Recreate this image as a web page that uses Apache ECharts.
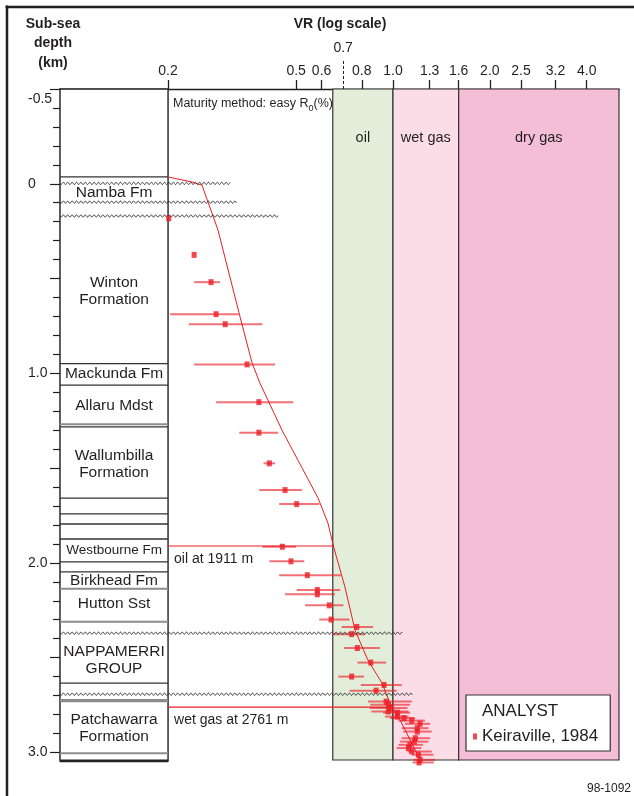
<!DOCTYPE html>
<html><head><meta charset="utf-8">
<script src="https://cdn.jsdelivr.net/npm/echarts@6/dist/echarts.min.js"></script>
<style>html,body{margin:0;padding:0;background:#fff}#c{width:634px;height:796px}</style>
</head><body><div id="c"></div>
<script>
// ---------- axis ticks ----------
const vrTicks = [0.2, 0.5, 0.6, 0.8, 1.0, 1.3, 1.6, 2.0, 2.5, 3.2, 4.0];
const vrExtraTicks = [0.7];
const depthLabels = [-0.5, 0, 1.0, 2.0, 3.0];
const depthMajorTicks = [-0.5, 0, 0.5, 1.0, 1.5, 2.0, 2.5, 3.0];
const depthMinorTicks = [-0.4, -0.3, -0.2, -0.1, 0.1, 0.2, 0.3, 0.4, 0.6, 0.7, 0.8, 0.9,
  1.1, 1.2, 1.3, 1.4, 1.6, 1.7, 1.8, 1.9, 2.1, 2.2, 2.3, 2.4, 2.6, 2.7, 2.8, 2.9];

// ---------- maturity zones ----------
const zoneNames = ['oil', 'wet gas', 'dry gas'];
const zoneFrom = [0.65, 1.0, 1.6];
const zoneTo = [1.0, 1.6, 5.04];

// ---------- model curve (easy Ro) ----------
const modelVR =    [0.200, 0.239, 0.255, 0.286, 0.335, 0.365, 0.386, 0.406, 0.452, 0.585, 0.628, 0.653, 0.709, 0.762, 0.835, 0.924, 0.978, 1.052, 1.214];
const modelDepth = [-0.036, -0.008, 0.008, 0.245, 0.704, 0.946, 1.052, 1.131, 1.300, 1.658, 1.790, 1.911, 2.127, 2.354, 2.512, 2.633, 2.738, 2.828, 3.039];

// ---------- measured VR (Keiraville, 1984) ----------
const sampleDepth = [0.182, 0.375, 0.519, 0.688, 0.741, 0.953, 1.152, 1.313, 1.475, 1.616, 1.690, 1.915, 1.992, 2.065,
  2.143, 2.166, 2.224, 2.299, 2.338, 2.376, 2.449, 2.526, 2.600, 2.644, 2.674, 2.732, 2.749, 2.766, 2.784, 2.790,
  2.811, 2.819, 2.832, 2.849, 2.872, 2.890, 2.925, 2.943, 2.960, 2.977, 2.995, 3.012, 3.039, 3.053];
const sampleVR = [0.201, 0.241, 0.272, 0.282, 0.301, 0.352, 0.383, 0.383, 0.413, 0.462, 0.502, 0.453, 0.482, 0.542,
  0.582, 0.582, 0.634, 0.642, 0.772, 0.744, 0.775, 0.853, 0.744, 0.938, 0.886, 0.952, 0.967, 0.978, 0.967, 1.034,
  1.030, 1.082, 1.144, 1.214, 1.190, 1.190, 1.174, 1.165, 1.128, 1.117, 1.144, 1.200, 1.214, 1.205];
const sampleLow = [0.201, 0.241, 0.241, 0.203, 0.232, 0.241, 0.282, 0.333, 0.396, 0.384, 0.443, 0.393, 0.413, 0.443,
  0.502, 0.462, 0.533, 0.590, 0.693, 0.646, 0.704, 0.776, 0.676, 0.794, 0.733, 0.836, 0.850, 0.846, 0.857, 0.932,
  0.944, 0.978, 1.040, 1.090, 1.064, 1.076, 1.064, 1.052, 1.040, 1.027, 1.109, 1.144, 1.157, 1.150];
const sampleHigh = [0.201, 0.241, 0.290, 0.331, 0.393, 0.430, 0.490, 0.440, 0.430, 0.521, 0.590, 0.500, 0.530, 0.690,
  0.685, 0.660, 0.701, 0.733, 0.868, 0.818, 0.910, 0.952, 0.813, 1.064, 1.027, 1.144, 1.130, 1.110, 1.117, 1.130,
  1.117, 1.170, 1.257, 1.305, 1.290, 1.320, 1.305, 1.289, 1.239, 1.224, 1.320, 1.336, 1.353, 1.340];

// ---------- stratigraphic column ----------
const formationNames = ['Namba Fm', 'Winton\nFormation', 'Mackunda Fm', 'Allaru Mdst', 'Wallumbilla\nFormation',
  'Westbourne Fm', 'Birkhead Fm', 'Hutton Sst', 'NAPPAMERRI\nGROUP', 'Patchawarra\nFormation'];
const formationMidDepth = [0.049, 0.566, 1.003, 1.171, 1.478, 1.932, 2.094, 2.217, 2.511, 2.871];
const boundaryDepth = [-0.036, 0.949, 1.062, 1.269, 1.283, 1.658, 1.742, 1.795, 1.874, 1.995, 2.048, 2.137, 2.310, 2.634, 2.727, 3.005, 3.045];
const boundaryKind =  [0, 0, 0, 1, 0, 0, 0, 0, 0, 0, 0, 1, 1, 0, 2, 1, 3];
const unconformityDepth = [-0.002, 0.097, 0.170, 2.371, 2.693];
const unconformityEndVR = [0.312, 0.327, 0.440, 1.074, 1.150];

// ---------- hydrocarbon shows ----------
const showDepth = [1.911, 2.761];
const showEndVR = [0.653, 0.960];
const showLabels = ['oil at 1911 m', 'wet gas at 2761 m'];

// ---------- styles ----------
const FONT = '"Liberation Sans", Arial, Helvetica, sans-serif';
const RED = '#ec1c24';
const INK = '#231f20';
const zoneColors = ['#e2eed9', '#fbdde8', '#f5bed7'];
const boundaryStyles = [
  {stroke: '#333', w: 1.3}, {stroke: '#8c8c8c', w: 2}, {stroke: '#8c8c8c', w: 3.2}, {stroke: '#222', w: 2.8}
];
const colLeft = 0.0923, colRight = 0.2, colMid = Math.sqrt(colLeft * colRight);
const yMin = -0.5, yMax = 3.04, xMin = colLeft, xMax = 5.04, colBottom = 3.045;

const chart = echarts.init(document.getElementById('c'), null, {renderer: 'canvas'});

const option = {
  animation: false,
  backgroundColor: '#fff',
  textStyle: {fontFamily: FONT},
  grid: {left: 60, right: 15, top: 89, bottom: 36, containLabel: false},
  xAxis: [
    {
      type: 'log', logBase: 10, min: xMin, max: xMax, position: 'top',
      axisLine: {show: true, onZero: false, lineStyle: {color: INK, width: 1.3}},
      axisTick: {show: true, customValues: vrTicks, length: 9, lineStyle: {color: INK, width: 1.3}},
      axisLabel: {customValues: vrTicks, formatter: v => Number(v).toFixed(1), fontSize: 14, color: INK, margin: 11, fontFamily: FONT},
      splitLine: {show: false}, minorTick: {show: false}, minorSplitLine: {show: false}
    },
    {
      type: 'log', logBase: 10, min: xMin, max: xMax, position: 'top',
      axisLine: {show: false, onZero: false},
      axisTick: {show: true, customValues: vrExtraTicks, length: 29, lineStyle: {color: INK, width: 1, type: [3, 2]}},
      axisLabel: {customValues: vrExtraTicks, formatter: v => Number(v).toFixed(1), fontSize: 14, color: INK, margin: 34, fontFamily: FONT},
      splitLine: {show: false}
    }
  ],
  yAxis: [
    {
      type: 'value', inverse: true, min: yMin, max: yMax, position: 'left',
      axisLine: {show: true, onZero: false, lineStyle: {color: INK, width: 1.3}},
      axisTick: {show: true, customValues: depthMajorTicks, length: 10, lineStyle: {color: INK, width: 1.2}},
      axisLabel: {
        customValues: depthLabels, align: 'left', margin: 32, fontSize: 14, color: INK, fontFamily: FONT,
        formatter: v => (Math.abs(v + 0.5) < 1e-9 ? '{t|-0.5}' : (Math.abs(v) < 1e-9 ? '0' : Number(v).toFixed(1))),
        rich: {t: {padding: [20, 0, 0, 0], fontSize: 14, color: INK, fontFamily: FONT}}
      },
      splitLine: {show: false}
    },
    {
      type: 'value', inverse: true, min: yMin, max: yMax, position: 'left',
      axisLine: {show: false, onZero: false},
      axisTick: {show: true, customValues: depthMinorTicks, length: 7, lineStyle: {color: INK, width: 1.2}},
      axisLabel: {show: false},
      splitLine: {show: false}
    }
  ],
  legend: {
    data: [{name: 'Keiraville, 1984', icon: 'rect'}],
    left: 466, top: 695, orient: 'vertical',
    itemWidth: 4, itemHeight: 6, itemGap: 0,
    padding: [33, 12, 6, 7],
    backgroundColor: '#fff', borderColor: '#333', borderWidth: 1.2, borderRadius: 0,
    selectedMode: false,
    textStyle: {fontSize: 17, color: INK, fontFamily: FONT}
  },
  graphic: [
    {type: 'line', z: 100, shape: {x1: 5.5, y1: 7, x2: 634, y2: 7}, style: {stroke: INK, lineWidth: 2.5}},
    {type: 'line', z: 100, shape: {x1: 7, y1: 5.5, x2: 7, y2: 796}, style: {stroke: INK, lineWidth: 2.5}},
    {type: 'text', z: 100, x: 53, y: 24, style: {text: 'Sub-sea', font: 'bold 14px ' + FONT, fill: INK, align: 'center', verticalAlign: 'middle'}},
    {type: 'text', z: 100, x: 53, y: 43, style: {text: 'depth', font: 'bold 14px ' + FONT, fill: INK, align: 'center', verticalAlign: 'middle'}},
    {type: 'text', z: 100, x: 53, y: 63, style: {text: '(km)', font: 'bold 14px ' + FONT, fill: INK, align: 'center', verticalAlign: 'middle'}},
    {type: 'text', z: 100, x: 340, y: 24, style: {text: 'VR (log scale)', font: 'bold 14px ' + FONT, fill: INK, align: 'center', verticalAlign: 'middle'}},
    {type: 'text', z: 100, x: 173, y: 102, style: {
      text: '{a|Maturity method: easy R}{s|0}{a|(%)}', align: 'left', verticalAlign: 'middle',
      rich: {a: {fontSize: 12.5, fontFamily: FONT, fill: INK, lineHeight: 16, verticalAlign: 'bottom'},
             s: {fontSize: 9, fontFamily: FONT, fill: INK, lineHeight: 16, verticalAlign: 'bottom', padding: [0, 0, -3, 0]}}
    }},
    {type: 'text', z: 100, x: 482, y: 711, style: {text: 'ANALYST', font: '17px ' + FONT, fill: INK, align: 'left', verticalAlign: 'middle'}},
    {type: 'text', z: 100, x: 631, y: 789, style: {text: '98-1092', font: '12px ' + FONT, fill: INK, align: 'right', verticalAlign: 'middle'}}
  ],
  series: [
    // maturity zones
    {
      type: 'custom', name: 'zones', z: 1, clip: false, silent: true,
      encode: {x: 0, y: 1},
      data: zoneFrom.map((f, i) => [f, zoneTo[i], i]),
      renderItem: (p, api) => {
        const i = api.value(2);
        const a = api.coord([api.value(0), yMin]);
        const b = api.coord([api.value(1), yMax]);
        return {type: 'group', children: [
          {type: 'rect', shape: {x: a[0], y: a[1], width: b[0] - a[0], height: b[1] - a[1]},
           style: {fill: zoneColors[i], stroke: '#333', lineWidth: 1.2}},
          {type: 'text', style: {text: zoneNames[i], x: (a[0] + b[0]) / 2, y: a[1] + 49, align: 'center',
           verticalAlign: 'middle', font: '14.5px ' + FONT, fill: INK}}
        ]};
      }
    },
    // column frame
    {
      type: 'custom', name: 'column', z: 2, clip: false, silent: true,
      encode: {x: 0, y: 1},
      data: [[colRight, colBottom]],
      renderItem: (p, api) => {
        const a = api.coord([colLeft, yMin]);
        const b = api.coord([colRight, colBottom]);
        return {type: 'rect', shape: {x: a[0], y: a[1], width: b[0] - a[0], height: b[1] - a[1]},
                style: {fill: '#fff', stroke: '#222', lineWidth: 1.4}};
      }
    },
    // formation boundaries
    {
      type: 'custom', name: 'boundaries', z: 3, clip: false, silent: true,
      encode: {x: 0, y: 1},
      data: boundaryDepth.map((d, i) => [colRight, d, boundaryKind[i]]),
      renderItem: (p, api) => {
        const s = boundaryStyles[api.value(2)];
        const a = api.coord([colLeft, api.value(1)]);
        const b = api.coord([colRight, api.value(1)]);
        return {type: 'line', shape: {x1: a[0], y1: a[1], x2: b[0], y2: b[1]}, style: {stroke: s.stroke, lineWidth: s.w}};
      }
    },
    // formation names
    {
      type: 'custom', name: 'formations', z: 3, clip: false, silent: true,
      encode: {x: 0, y: 1},
      data: formationMidDepth.map((d, i) => [colMid, d, i]),
      renderItem: (p, api) => {
        const i = api.value(2);
        const c = api.coord([api.value(0), api.value(1)]);
        const fs = formationNames[i].indexOf('Westbourne') === 0 ? 13.5 : 15.5;
        return {type: 'text', style: {text: formationNames[i], x: c[0], y: c[1], align: 'center', verticalAlign: 'middle',
          font: fs + 'px ' + FONT, fill: INK, lineHeight: 17}};
      }
    },
    // unconformities (wavy lines)
    {
      type: 'custom', name: 'unconformities', z: 6, clip: false, silent: true,
      encode: {x: 0, y: 1},
      data: unconformityEndVR.map((v, i) => [v, unconformityDepth[i]]),
      renderItem: (p, api) => {
        const a = api.coord([colLeft, api.value(1)]);
        const b = api.coord([api.value(0), api.value(1)]);
        const pts = [];
        for (let x = a[0]; x <= b[0]; x += 0.5) {
          pts.push([x, a[1] + 1.2 * Math.sin((x - a[0]) / 4.4 * 2 * Math.PI)]);
        }
        return {type: 'polyline', shape: {points: pts}, style: {stroke: '#333', lineWidth: 0.9, fill: null}};
      }
    },
    // hydrocarbon shows
    {
      type: 'custom', name: 'shows', z: 4, clip: false, silent: true,
      encode: {x: 0, y: 1},
      data: showEndVR.map((v, i) => [v, showDepth[i], i]),
      renderItem: (p, api) => {
        const i = api.value(2);
        const a = api.coord([colRight, api.value(1)]);
        const b = api.coord([api.value(0), api.value(1)]);
        return {type: 'group', children: [
          {type: 'line', shape: {x1: a[0], y1: a[1], x2: b[0], y2: b[1]}, style: {stroke: RED, lineWidth: 1.1}},
          {type: 'text', style: {text: showLabels[i], x: a[0] + 6, y: a[1] + 13.5, align: 'left', verticalAlign: 'middle',
           font: '14px ' + FONT, fill: INK}}
        ]};
      }
    },
    // model curve
    {
      type: 'line', name: 'model', z: 4, clip: false, silent: true,
      data: modelVR.map((v, i) => [v, modelDepth[i]]),
      symbol: 'none', lineStyle: {color: RED, width: 1}
    },
    // error bars
    {
      type: 'custom', name: 'range', z: 5, clip: false, silent: true,
      encode: {x: 0, y: 1},
      data: sampleVR.map((v, i) => [v, sampleDepth[i], sampleLow[i], sampleHigh[i]]),
      renderItem: (p, api) => {
        const a = api.coord([api.value(2), api.value(1)]);
        const b = api.coord([api.value(3), api.value(1)]);
        return {type: 'line', shape: {x1: a[0], y1: a[1], x2: b[0], y2: b[1]}, style: {stroke: 'rgba(236,28,36,0.62)', lineWidth: 2}};
      }
    },
    // measured points
    {
      type: 'scatter', name: 'Keiraville, 1984', z: 7, clip: false,
      data: sampleVR.map((v, i) => [v, sampleDepth[i]]),
      symbol: 'rect', symbolSize: [5, 6], itemStyle: {color: RED}
    }
  ]
};
chart.setOption(option);
</script>
</body></html>
